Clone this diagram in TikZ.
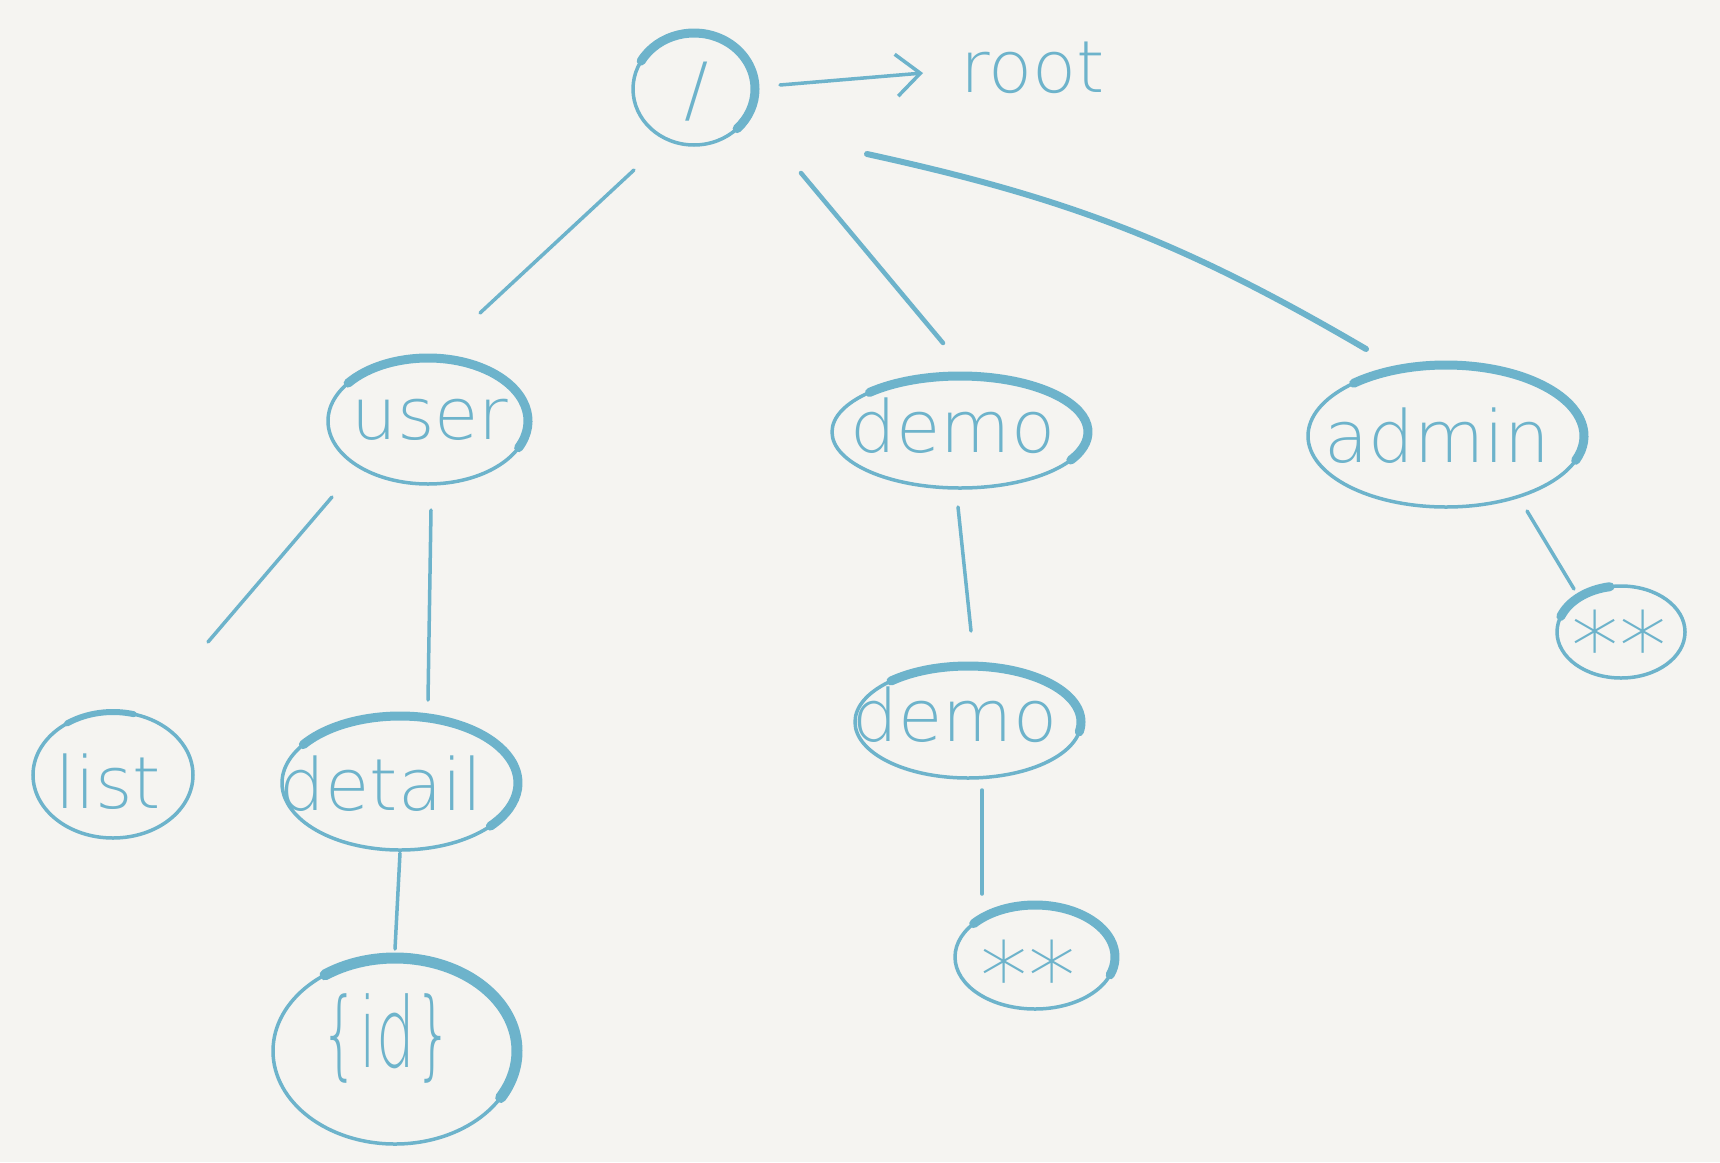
\documentclass[tikz,border=0pt]{standalone}
\usepackage{fontspec}
\newfontfamily\hand{DejaVu Sans ExtraLight}
\usetikzlibrary{shapes.geometric,calc,arrows.meta}
\definecolor{lc}{HTML}{6DB3CB}
\definecolor{bg}{HTML}{F5F4F1}
\newcommand\thickarc[6][9pt]{\draw[lc,line width=#1,line cap=round] ($(#2.center)+(#3:#5 and #6)$) arc[start angle=#3,end angle=#4,x radius=#5,y radius=#6];}
\begin{document}
\begin{tikzpicture}[x=1pt,y=1pt,
  ell/.style 2 args={ellipse,draw=lc,line width=3.5pt,minimum width=#1,minimum height=#2,inner sep=0pt},
  txt/.style={text=lc,font=\hand\fontsize{72}{80}\selectfont,inner sep=0pt,anchor=base},
  conn/.style={draw=lc,line width=3.5pt,line cap=round}]
\useasboundingbox (0,0) rectangle (1720,-1162);
\fill[bg] (0,0) rectangle (1720,-1162);

% ellipses
\node[ell={122pt}{112pt}] (slash) at (694,-89) {};
\node[ell={200pt}{126pt}] (user) at (428,-421) {};
\node[ell={256pt}{112pt}] (demo) at (960,-432) {};
\node[ell={276pt}{142pt}] (admin) at (1446,-436) {};
\node[ell={160pt}{126pt}] (list) at (113,-775) {};
\node[ell={236pt}{134pt}] (detail) at (400,-783) {};
\node[ell={244pt}{186pt}] (id) at (395,-1051) {};
\node[ell={226pt}{112pt}] (demo2) at (968,-722) {};
\node[ell={128pt}{92pt}] (starR) at (1621,-632) {};
\node[ell={160pt}{104pt}] (starL) at (1035,-957) {};

% thick pen strokes
\thickarc{slash}{150}{-45}{61pt}{56pt}
\thickarc{user}{143}{-25}{100pt}{63pt}
\thickarc{demo}{135}{-30}{128pt}{56pt}
\thickarc{admin}{132}{-20}{138pt}{71pt}
\thickarc[6pt]{list}{125}{75}{80pt}{63pt}
\thickarc{detail}{145}{-40}{118pt}{67pt}
\thickarc[11pt]{id}{125}{-30}{122pt}{93pt}
\thickarc{demo2}{133}{-10}{113pt}{56pt}
\thickarc{starL}{140}{-20}{80pt}{52pt}
\thickarc{starR}{160}{100}{64pt}{46pt}

% texts
\node[txt] (slash-t) at ($(slash.center)+(3,-25)$) {/};
\node[txt,anchor=base west] (root) at (960,-92) {root};
\node[txt] (user-t) at ($(user.center)+(2,-18)$) {user};
\node[txt] (demo-t) at ($(demo.center)+(-7,-20)$) {demo};
\node[txt] (admin-t) at ($(admin.center)+(-9,-26)$) {admin};
\node[txt] (list-t) at ($(list.center)+(-5,-33)$) {list};
\node[txt] (detail-t) at ($(detail.center)+(-19,-27)$) {detail};
\node[txt] (demo2-t) at ($(demo2.center)+(-13,-19)$) {demo};
\node[txt] (id-t) at ($(id.center)+(-8,-16)$) {\scalebox{0.85}[1.35]{\{id\}}};
\node[txt,font=\hand\fontsize{95}{100}\selectfont] (starR-t) at ($(starR.center)+(-2,-48)$) {**};
\node[txt,font=\hand\fontsize{95}{100}\selectfont] (starL-t) at ($(starL.center)+(-7,-53)$) {**};

% connectors
\draw[conn,-{Straight Barb[length=24pt,width=42pt]}] ($(slash.center)+(86,4)$) -- ($(root.base west)+(-37,19)$);
\draw[conn] ($(slash.center)+(-60,-81)$) -- ($(user.center)+(52,108)$);
\draw[conn,line width=4.5pt] ($(slash.center)+(107,-84)$) -- ($(demo.center)+(-17,89)$);
\draw[conn,line width=6pt] ($(slash.center)+(173,-65)$) to[bend left=9] ($(admin.center)+(-80,87)$);
\draw[conn] ($(user.center)+(-96,-76)$) -- ($(list.center)+(95,133)$);
\draw[conn] ($(user.center)+(3,-89)$) -- ($(detail.center)+(28,83)$);
\draw[conn] ($(demo.center)+(-2,-75)$) -- ($(demo2.center)+(3,91)$);
\draw[conn] ($(admin.center)+(81,-75)$) -- ($(starR.center)+(-47,43)$);
\draw[conn] ($(detail.center)+(0,-70)$) -- ($(id.center)+(0,102)$);
\draw[conn] ($(demo2.center)+(14,-68)$) -- ($(starL.center)+(-53,63)$);
\end{tikzpicture}
\end{document}
